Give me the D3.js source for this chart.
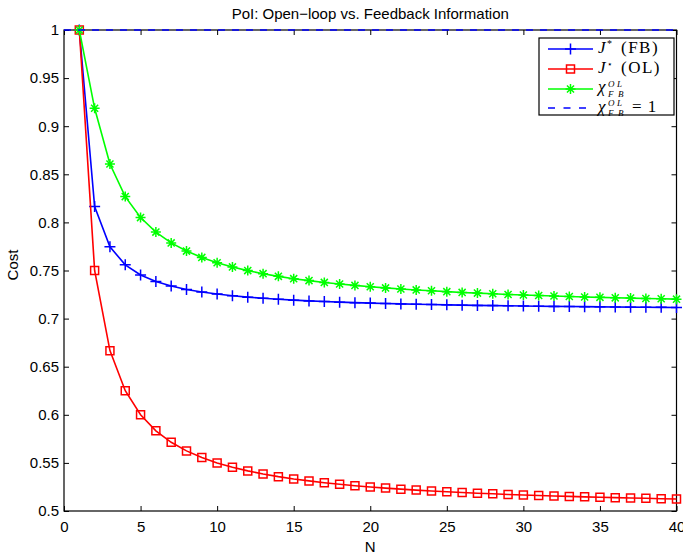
<!DOCTYPE html>
<html lang="en">
<head>
  <meta charset="UTF-8">
  <title>PoI: Open-loop vs. Feedback Information</title>
  <script src="https://d3js.org/d3.v7.min.js"></script>
  <style>
    body { margin: 0; background: #fff; }
  </style>
</head>
<body>
  <script>
    // Horizon lengths
    const horizon = d3.range(1, 41);

    // Feedback cost J* (FB)
    const costFB = [1, 0.8165, 0.7746, 0.7559, 0.7454, 0.7385, 0.7338, 0.7303, 0.7276, 0.7255,
      0.7237, 0.7223, 0.7211, 0.7201, 0.7192, 0.7184, 0.7177, 0.7171, 0.7166, 0.7161,
      0.7157, 0.7153, 0.7149, 0.7146, 0.7143, 0.7140, 0.7137, 0.7135, 0.7133, 0.7131,
      0.7129, 0.7127, 0.7125, 0.7124, 0.7122, 0.7121, 0.7119, 0.7118, 0.7117, 0.7116];

    // Open-loop cost J* (OL)
    const costOL = [1, 0.75, 0.6667, 0.625, 0.6, 0.5833, 0.5714, 0.5625, 0.5556, 0.55,
      0.5455, 0.5417, 0.5385, 0.5357, 0.5333, 0.5313, 0.5294, 0.5278, 0.5263, 0.525,
      0.5238, 0.5227, 0.5217, 0.5208, 0.52, 0.5192, 0.5185, 0.5179, 0.5172, 0.5167,
      0.5161, 0.5156, 0.5152, 0.5147, 0.5143, 0.5139, 0.5135, 0.5132, 0.5128, 0.5125];

    // Price of information chi
    const chiRatio = [1, 0.9186, 0.8607, 0.8268, 0.8050, 0.7899, 0.7787, 0.7702, 0.7636, 0.7581,
      0.7537, 0.7499, 0.7467, 0.7439, 0.7415, 0.7395, 0.7376, 0.7360, 0.7345, 0.7331,
      0.7319, 0.7308, 0.7298, 0.7289, 0.7280, 0.7272, 0.7265, 0.7258, 0.7251, 0.7245,
      0.7240, 0.7235, 0.7230, 0.7225, 0.7221, 0.7216, 0.7213, 0.7209, 0.7206, 0.7202];

    const xTicks = [0, 5, 10, 15, 20, 25, 30, 35, 40];
    const yTicks = [0.5, 0.55, 0.6, 0.65, 0.7, 0.75, 0.8, 0.85, 0.9, 0.95, 1];

    const width = 683;
    const height = 556;
    const margin = {top: 30, right: 6.5, bottom: 45, left: 64};
    const sans = "Liberation Sans, Arial, sans-serif";
    const serif = "Liberation Serif, Times New Roman, serif";

    const svg = d3.select("body")
      .append("svg")
      .attr("width", width)
      .attr("height", height)
      .attr("font-family", sans);

    const x = d3.scaleLinear().domain([0, 40]).range([margin.left, width - margin.right]);
    const y = d3.scaleLinear().domain([0.5, 1]).range([height - margin.bottom, margin.top]);

    // axes with inward ticks on all four sides
    const tickLen = 5;
    svg.append("g")
      .attr("transform", `translate(0,${y(0.5)})`)
      .call(d3.axisBottom(x).tickValues(xTicks).tickSizeInner(-tickLen).tickSizeOuter(0).tickPadding(10))
      .call(g => g.select(".domain").remove());
    svg.append("g")
      .attr("transform", `translate(0,${y(1)})`)
      .call(d3.axisTop(x).tickValues(xTicks).tickSizeInner(-tickLen).tickSizeOuter(0).tickFormat(""))
      .call(g => g.select(".domain").remove());
    svg.append("g")
      .attr("transform", `translate(${x(0)},0)`)
      .call(d3.axisLeft(y).tickValues(yTicks).tickSizeInner(-tickLen).tickSizeOuter(0).tickPadding(5)
        .tickFormat(d => String(+d.toFixed(2))))
      .call(g => g.select(".domain").remove());
    svg.append("g")
      .attr("transform", `translate(${x(40)},0)`)
      .call(d3.axisRight(y).tickValues(yTicks).tickSizeInner(-tickLen).tickSizeOuter(0).tickFormat(""))
      .call(g => g.select(".domain").remove());

    svg.selectAll("g").attr("font-family", sans);
    svg.selectAll(".tick text")
      .attr("font-size", 15)
      .attr("fill", "#000");
    svg.selectAll(".tick line").attr("stroke", "#000");

    // plot box
    svg.append("rect")
      .attr("x", x(0)).attr("y", y(1))
      .attr("width", x(40) - x(0)).attr("height", y(0.5) - y(1))
      .attr("fill", "none").attr("stroke", "#000").attr("stroke-width", 1.2);

    const line = d3.line().x((d, i) => x(horizon[i])).y(d => y(d));

    const plusPath = s => `M${-s},0H${s}M0,${-s}V${s}`;
    const starPath = s => {
      const d = s * 0.7071;
      return `M${-s},0H${s}M0,${-s}V${s}M${-d},${-d}L${d},${d}M${-d},${d}L${d},${-d}`;
    };
    const squarePath = "M-4,-4H4V4H-4Z";

    // each series: line then its markers, drawn in plot order
    const series = [
      {values: costFB, color: "#0000ff", marker: plusPath(5.5)},
      {values: costOL, color: "#ff0000", marker: squarePath},
      {values: chiRatio, color: "#00ff00", marker: starPath(5)}
    ];
    series.forEach(s => {
      svg.append("path").datum(s.values)
        .attr("d", line).attr("fill", "none")
        .attr("stroke", s.color).attr("stroke-width", 1.6);
      svg.append("g").selectAll("path")
        .data(s.values)
        .join("path")
        .attr("transform", (d, i) => `translate(${x(horizon[i])},${y(d)})`)
        .attr("d", s.marker)
        .attr("fill", "none")
        .attr("stroke", s.color)
        .attr("stroke-width", 1.5);
    });

    // dashed reference line chi = 1
    svg.append("line")
      .attr("x1", x(0)).attr("x2", x(40))
      .attr("y1", y(1)).attr("y2", y(1))
      .attr("stroke", "#0000ff")
      .attr("stroke-width", 1.3)
      .attr("stroke-dasharray", "7,7");

    // title and axis labels
    svg.append("text")
      .attr("x", (x(0) + x(40)) / 2).attr("y", 18.5)
      .attr("text-anchor", "middle").attr("font-size", 15)
      .text("PoI: Open\u2212loop vs. Feedback Information");
    svg.append("text")
      .attr("x", (x(0) + x(40)) / 2).attr("y", 551.5)
      .attr("text-anchor", "middle").attr("font-size", 15)
      .text("N");
    svg.append("text")
      .attr("transform", "translate(17.5,265) rotate(-90)")
      .attr("text-anchor", "middle").attr("font-size", 15)
      .text("Cost");

    // legend
    const legend = svg.append("g").attr("transform", "translate(539,38)");
    legend.append("rect")
      .attr("width", 135).attr("height", 77)
      .attr("fill", "#fff").attr("stroke", "#000").attr("stroke-width", 1.2);

    const rows = [
      {color: "#0000ff", marker: plusPath(5.5), dash: null},
      {color: "#ff0000", marker: squarePath, dash: null},
      {color: "#00ff00", marker: starPath(5), dash: null},
      {color: "#0000ff", marker: null, dash: "7,8.5"}
    ];
    const rowY = [11, 31, 51, 70];
    rows.forEach((r, i) => {
      const ry = rowY[i];
      legend.append("line")
        .attr("x1", 9).attr("x2", 54).attr("y1", ry).attr("y2", ry)
        .attr("stroke", r.color).attr("stroke-width", r.dash ? 1.3 : 1.6)
        .attr("stroke-dasharray", r.dash);
      if (r.marker) {
        legend.append("path")
          .attr("transform", `translate(31.5,${ry})`)
          .attr("d", r.marker).attr("fill", "none")
          .attr("stroke", r.color).attr("stroke-width", 1.5);
      }
    });

    // legend labels in TeX-like serif, absolute page coordinates
    const tx = (px, py, str, size, italic, spacing) => svg.append("text")
      .attr("x", px).attr("y", py)
      .attr("font-family", serif)
      .attr("font-size", size)
      .attr("font-style", italic ? "italic" : "normal")
      .attr("letter-spacing", spacing || 0)
      .text(str);

    tx(598, 53, "J", 17, true);
    tx(607, 47, "*", 10, false);
    tx(621, 53, "(FB)", 17, false, 1.5);

    tx(598, 73, "J", 17, true);
    tx(607, 67, "\u22c6", 9, false);
    tx(621, 73, "(OL)", 17, false, 1.5);

    tx(598, 92, "\u03c7", 17, true);
    tx(608, 87, "O", 9, true);
    tx(617, 87, "L", 9, true);
    tx(608, 97, "F", 9, true);
    tx(618, 97, "B", 9, true);

    tx(598, 111.5, "\u03c7", 17, true);
    tx(608, 106, "O", 9, true);
    tx(617, 106, "L", 9, true);
    tx(608, 115.5, "F", 9, true);
    tx(618, 115.5, "B", 9, true);
    tx(632, 112, "= 1", 17, false, 1);
  </script>
</body>
</html>
